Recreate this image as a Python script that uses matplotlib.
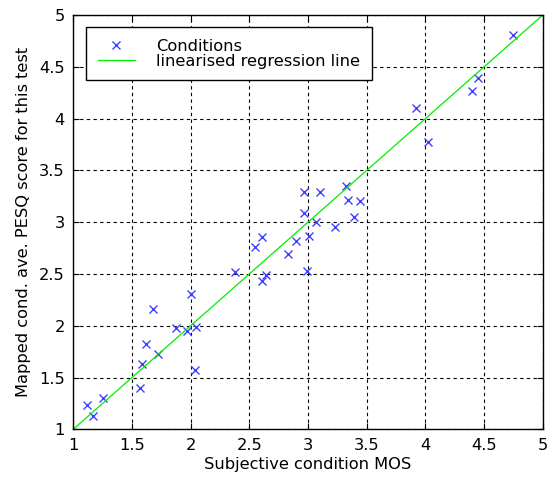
import numpy as np
import matplotlib.pyplot as plt

# subjective MOS vs mapped PESQ score
mos = [1.12, 1.17, 1.25, 1.57, 1.585, 1.62, 1.68, 1.72, 1.88, 1.97, 2.0, 2.05, 2.04,
       2.375, 2.61, 2.64, 2.55, 2.61, 2.83, 2.90, 2.97, 2.97, 3.01, 2.99, 3.065,
       3.105, 3.23, 3.32, 3.34, 3.44, 3.39, 4.02, 3.92, 4.40, 4.45, 4.75]
pesq = [1.235, 1.13, 1.305, 1.40, 1.63, 1.82, 2.16, 1.73, 1.98, 1.95, 2.31, 1.99, 1.57,
        2.52, 2.43, 2.49, 2.76, 2.86, 2.69, 2.82, 3.29, 3.085, 2.87, 2.53, 3.0,
        3.29, 2.95, 3.35, 3.21, 3.20, 3.05, 3.77, 4.10, 4.27, 4.39, 4.81]
line_x = [1, 5]
line_y = [1, 5]

plt.rcParams['font.family'] = ['DejaVu Sans']
plt.rcParams['font.size'] = 11.7

fig = plt.figure(figsize=(5.5, 4.83), dpi=100)
ax = fig.add_axes([0.133, 0.111, 0.854, 0.858])

ax.plot(mos, pesq, 'x', color='#4040ff', markersize=5.5, markeredgewidth=1.0, label='Conditions')
ax.plot(line_x, line_y, '-', color='#00ee00', linewidth=0.9, label='linearised regression line')

ax.set_xlim(1, 5)
ax.set_ylim(1, 5)
ticks = np.arange(1, 5.01, 0.5)
ax.set_xticks(ticks)
ax.set_yticks(ticks)
ax.set_xticklabels(['1', '1.5', '2', '2.5', '3', '3.5', '4', '4.5', '5'])
ax.set_yticklabels(['1', '1.5', '2', '2.5', '3', '3.5', '4', '4.5', '5'])
ax.grid(True, color='black', linestyle=(0, (3, 3)), linewidth=0.8)
ax.tick_params(direction='in', top=True, right=True, length=4, pad=6)
for s in ax.spines.values():
    s.set_linewidth(1.0)

ax.set_xlabel('Subjective condition MOS', labelpad=3)
ax.set_ylabel('Mapped cond. ave. PESQ score for this test', labelpad=6)

leg = ax.legend(loc='upper left', bbox_to_anchor=(0.028, 0.97), fancybox=False,
                edgecolor='black', framealpha=1, borderpad=0.7, labelspacing=0.0,
                handlelength=2.3, handletextpad=1.3, borderaxespad=0)
leg.get_frame().set_linewidth(1.0)

fig.savefig('out.png', dpi=100)
